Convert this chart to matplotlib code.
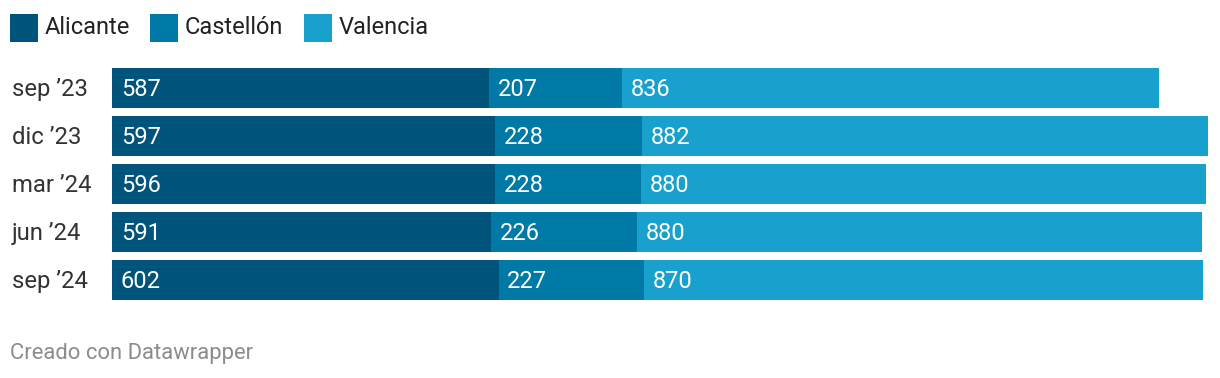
import matplotlib.pyplot as plt
from matplotlib.patches import Rectangle

plt.rcParams['font.family'] = ['Roboto', 'DejaVu Sans']

periodos = ["sep ’23", "dic ’23", "mar ’24", "jun ’24", "sep ’24"]
series = ["Alicante", "Castellón", "Valencia"]
alicante = [587, 597, 596, 591, 602]
castellon = [207, 228, 228, 226, 227]
valencia = [836, 882, 880, 880, 870]
colores = ["#00547b", "#0079a6", "#19a1cd"]

W, H = 1220, 378
fig = plt.figure(figsize=(W / 100, H / 100), dpi=100)

# ejes en pixeles: barras desde x=112, escala hasta el total máximo
x0, x1 = 112, 1208
top, bottom = 64, 304
ax = fig.add_axes([x0 / W, 1 - bottom / H, (x1 - x0) / W, (bottom - top) / H])

totales = [a + c + v for a, c, v in zip(alicante, castellon, valencia)]
ax.set_xlim(0, max(totales))
ax.set_ylim(len(periodos) - 0.5, -0.5)
ax.axis("off")

ys = list(range(len(periodos)))
izq = [0] * len(periodos)
for nombre, vals, col in zip(series, [alicante, castellon, valencia], colores):
    ax.barh(ys, vals, left=izq, height=40 / 48, color=col, linewidth=0)
    for y, l, v in zip(ys, izq, vals):
        ax.annotate(str(v), (l, y), xytext=(6.3, -5.8), textcoords="offset points",
                    ha="left", va="baseline", color="white", fontsize=17)
    izq = [a + b for a, b in zip(izq, vals)]

# etiquetas de categorias
for y, p in zip(ys, periodos):
    fig.text(12 / W, 1 - (96 + 48 * y) / H, p, ha="left", va="baseline",
             fontsize=17.2, color="#333333")

# leyenda
leg_x = [10, 150, 304]
for lx, nombre, col in zip(leg_x, series, colores):
    fig.patches.append(Rectangle((lx / W, 1 - 42 / H), 28 / W, 28 / H,
                                 transform=fig.transFigure, color=col, linewidth=0))
    fig.text((lx + 35) / W, 1 - 34.5 / H, nombre, ha="left", va="baseline",
             fontsize=17, color="#222222")

fig.text(10 / W, 1 - 358.5 / H, "Creado con Datawrapper", ha="left", va="baseline",
         fontsize=15.8, color="#8c8c8c")

fig.savefig("out.png", dpi=100)
